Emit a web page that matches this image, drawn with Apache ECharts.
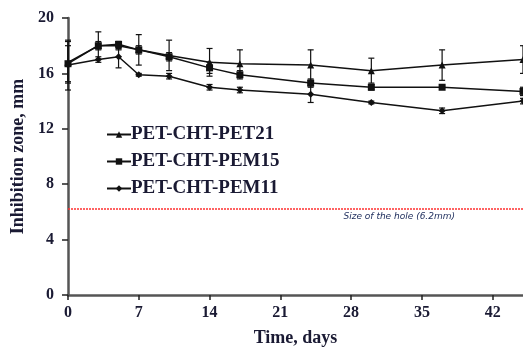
<!DOCTYPE html>
<html>
<head>
<meta charset="utf-8">
<script src="https://cdn.jsdelivr.net/npm/echarts@6/dist/echarts.min.js"></script>
<style>
  html, body { margin: 0; padding: 0; background: #fff; }
  #main { width: 523px; height: 348px; }
</style>
</head>
<body>
<div id="main"></div>
<script>
// days of measurement
const days = [0, 3, 5, 7, 10, 14, 17, 24, 30, 37, 45];
const pet21 = [16.8, 18.0, 18.0, 17.7, 17.3, 16.8, 16.7, 16.6, 16.2, 16.6, 17.0];
const pet21Err = [1.5, 1.0, 0.3, 1.1, 1.1, 1.0, 1.0, 1.1, 0.9, 1.1, 1.0];
const pem15 = [16.7, 18.0, 18.1, 17.7, 17.2, 16.4, 15.9, 15.3, 15.0, 15.0, 14.7];
const pem15Err = [1.3, 0.3, 0.2, 0.3, 0.3, 0.4, 0.3, 0.3, 0.2, 0.1, 0.3];
const pem11 = [16.6, 17.0, 17.2, 15.9, 15.8, 15.0, 14.8, 14.5, 13.9, 13.3, 14.0];
const pem11Err = [1.8, 0.2, 0.8, 0.1, 0.2, 0.2, 0.2, 0.6, 0.1, 0.2, 0.2];
const seriesNames = ['PET-CHT-PET21', 'PET-CHT-PEM15', 'PET-CHT-PEM11'];
const holeSize = 6.2;
const holeLabel = 'Size of the hole (6.2mm)';
const xTicks = [0, 7, 14, 21, 28, 35, 42];

const serif = 'Liberation Serif';
const textColor = '#1a1a33';
const myChart = echarts.init(document.getElementById('main'));

function pairs(vals) {
    return days.map((d, i) => [d, vals[i]]);
}

function errData(vals, errs) {
    return days.map((d, i) => [d, vals[i] - errs[i], vals[i] + errs[i]]);
}

function errorBars(vals, errs) {
    return {
        type: 'custom',
        data: errData(vals, errs),
        silent: true,
        z: 1,
        renderItem: function (params, api) {
            const lo = api.coord([api.value(0), api.value(1)]);
            const hi = api.coord([api.value(0), api.value(2)]);
            const w = 3;
            const style = { stroke: '#111', lineWidth: 1.2 };
            return {
                type: 'group',
                children: [
                    { type: 'line', shape: { x1: lo[0], y1: lo[1], x2: hi[0], y2: hi[1] }, style: style },
                    { type: 'line', shape: { x1: hi[0] - w, y1: hi[1], x2: hi[0] + w, y2: hi[1] }, style: style },
                    { type: 'line', shape: { x1: lo[0] - w, y1: lo[1], x2: lo[0] + w, y2: lo[1] }, style: style }
                ]
            };
        }
    };
}

function lineSeries(name, vals, symbol, size) {
    return {
        type: 'line',
        name: name,
        data: pairs(vals),
        symbol: symbol,
        symbolSize: size,
        z: 3,
        itemStyle: { color: '#111' },
        lineStyle: { color: '#111', width: 1.5 }
    };
}

const option = {
    animation: false,
    grid: { left: 68, right: 0, top: 18, bottom: 53, outerBoundsMode: 'none' },
    legend: {
        orient: 'vertical',
        left: 101,
        top: 120,
        itemGap: 8,
        itemWidth: 24,
        itemHeight: 8,
        data: seriesNames,
        textStyle: { fontFamily: serif, fontWeight: 'bold', fontSize: 19, color: textColor, padding: [0, 0, 0, -5] }
    },
    xAxis: {
        type: 'value',
        min: 0,
        max: 45,
        interval: 7,
        name: 'Time, days',
        nameLocation: 'middle',
        nameGap: 34,
        nameTextStyle: { fontFamily: serif, fontWeight: 'bold', fontSize: 18, color: textColor },
        axisLine: { lineStyle: { color: '#555', width: 2.5 } },
        axisTick: { show: true, length: 5, lineStyle: { color: '#222', width: 1.5 },
            customValues: xTicks },
        axisLabel: { fontFamily: serif, fontWeight: 'bold', fontSize: 16, color: textColor, margin: 10,
            customValues: xTicks },
        splitLine: { show: false }
    },
    yAxis: {
        type: 'value',
        min: 0,
        max: 20,
        interval: 4,
        name: 'Inhibition zone, mm',
        nameLocation: 'middle',
        nameGap: 41,
        nameTextStyle: { fontFamily: serif, fontWeight: 'bold', fontSize: 18, color: textColor },
        axisLine: { show: true, lineStyle: { color: '#555', width: 2.5 } },
        axisTick: { show: true, length: 6, lineStyle: { color: '#222', width: 1.5 } },
        axisLabel: { fontFamily: serif, fontWeight: 'bold', fontSize: 16, color: textColor, margin: 14 },
        splitLine: { show: false }
    },
    series: [
        errorBars(pet21, pet21Err),
        errorBars(pem15, pem15Err),
        errorBars(pem11, pem11Err),
        lineSeries(seriesNames[0], pet21, 'triangle', 7),
        lineSeries(seriesNames[1], pem15, 'rect', 7),
        Object.assign(lineSeries(seriesNames[2], pem11, 'diamond', 7), {
            markLine: {
                silent: true,
                symbol: 'none',
                lineStyle: { color: '#ff3030', type: [2, 1], width: 1.5 },
                label: {
                    show: true,
                    position: 'insideEndBottom',
                    formatter: holeLabel,
                    fontFamily: 'DejaVu Sans',
                    fontStyle: 'italic',
                    fontSize: 9,
                    color: '#1a2a5a',
                    distance: [68, 3]
                },
                data: [{ yAxis: holeSize }]
            }
        })
    ]
};

myChart.setOption(option);
</script>
</body>
</html>
